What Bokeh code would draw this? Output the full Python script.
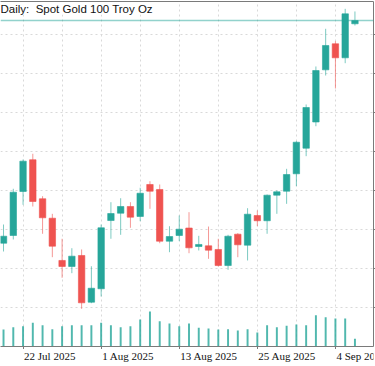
import numpy as np
from bokeh.plotting import figure
from bokeh.layouts import column
from bokeh.models import Range1d, LinearAxis, FixedTicker, Span, Label, ColumnDataSource
from bokeh.embed import file_html
from bokeh.resources import INLINE

# ---------------- data ----------------
dates = ["2025-07-18", "2025-07-21", "2025-07-22", "2025-07-23", "2025-07-24", "2025-07-25",
         "2025-07-28", "2025-07-29", "2025-07-30", "2025-07-31", "2025-08-01", "2025-08-04",
         "2025-08-05", "2025-08-06", "2025-08-07", "2025-08-08", "2025-08-11", "2025-08-12",
         "2025-08-13", "2025-08-14", "2025-08-15", "2025-08-18", "2025-08-19", "2025-08-20",
         "2025-08-21", "2025-08-22", "2025-08-25", "2025-08-26", "2025-08-27", "2025-08-28",
         "2025-08-29", "2025-09-01", "2025-09-02", "2025-09-03", "2025-09-04", "2025-09-05",
         "2025-09-08"]
opens = [3332.4, 3342.3, 3398.7, 3439.4, 3389.4, 3364.5, 3310.3, 3302.6, 3316.7, 3256.8,
         3274.0, 3361.5, 3370.9, 3379.5, 3366.7, 3407.7, 3401.3, 3335.0, 3342.3, 3351.9,
         3328.2, 3329.1, 3324.4, 3303.8, 3344.0, 3329.9, 3367.9, 3361.2, 3394.0, 3399.1,
         3421.4, 3454.2, 3487.8, 3554.7, 3588.1, 3570.1, 3613.7]
highs = [3356.4, 3402.2, 3439.7, 3447.1, 3392.7, 3370.1, 3338.1, 3326.0, 3324.4, 3302.9,
         3356.4, 3385.0, 3390.1, 3385.0, 3403.5, 3411.9, 3407.7, 3354.2, 3367.9, 3372.2,
         3341.9, 3353.8, 3338.1, 3343.2, 3345.3, 3377.3, 3374.4, 3394.9, 3400.0, 3427.8,
         3463.2, 3510.3, 3559.0, 3607.3, 3591.4, 3632.9, 3629.5]
lows = [3321.8, 3337.2, 3381.7, 3379.5, 3344.5, 3314.5, 3288.1, 3294.0, 3248.3, 3255.5,
        3264.1, 3338.1, 3343.2, 3352.2, 3360.6, 3376.5, 3332.4, 3320.9, 3335.0, 3319.6,
        3323.1, 3312.4, 3302.6, 3298.3, 3314.5, 3310.3, 3354.2, 3344.5, 3370.1, 3382.9,
        3405.5, 3444.0, 3482.4, 3547.4, 3530.8, 3563.2, 3611.5]
closes = [3341.4, 3397.8, 3437.6, 3385.9, 3365.0, 3328.6, 3302.6, 3315.8, 3256.0, 3274.7,
          3352.2, 3370.5, 3379.5, 3365.8, 3396.5, 3399.1, 3335.0, 3341.0, 3350.4, 3326.5,
          3330.8, 3323.5, 3303.8, 3341.4, 3330.4, 3369.6, 3361.2, 3394.0, 3398.3, 3420.5,
          3461.9, 3506.4, 3553.8, 3585.9, 3570.1, 3626.5, 3617.9]
volumes = [85000, 96500, 101500, 118500, 106500, 86500, 101500, 106500, 106500, 106500,
           118500, 106500, 96500, 101500, 135000, 175000, 126500, 115000, 101500, 115000,
           93500, 90000, 85000, 86500, 80000, 86500, 70000, 106500, 96500, 103500,
           110000, 106500, 156500, 146500, 140000, 140000, 38500]
label_dates = ["2025-07-10", "2025-07-22", "2025-08-01", "2025-08-13", "2025-08-25", "2025-09-04"]
price_ticks = [3250, 3300, 3350, 3400, 3450, 3500, 3550, 3600]
title_text = "Daily:\u00a0 Spot Gold 100 Troy Oz"

# ---------------- derived ----------------
UP, DOWN = "#26a69a", "#ef5350"
AXIS = "#7a7a7a"
FONT = "Liberation Sans"
xs = np.busday_count(dates[0], np.array(dates, dtype="datetime64[D]"))
lx = np.busday_count(dates[0], np.array(label_dates, dtype="datetime64[D]"))
lab_txt = [np.datetime64(d, "D").astype(object).strftime("%-d %b %Y") for d in label_dates]
o, h, l, c = map(np.array, (opens, highs, lows, closes))
col = [UP if cc >= oo else DOWN for oo, cc in zip(o, c)]
src = ColumnDataSource(dict(x=xs, top=np.maximum(o, c), bottom=np.minimum(o, c),
                            high=h, low=l, color=col, vol=volumes))

xr = Range1d(-0.31, 37.9)
p = figure(width=375, height=349, output_backend="svg", toolbar_location=None, tools="",
           x_range=xr, y_range=Range1d(3200, 3642.3),
           y_axis_location="right", min_border=0, min_border_top=1, min_border_bottom=0,
           min_border_right=0, min_border_left=0, outline_line_color=None,
           background_fill_color="white", border_fill_color="white")
p.extra_y_ranges = {"vol": Range1d(0, 1725000)}

# grid
grid_x = list(range(int(lx[0]) + 4, int(xs[-1]) + 4, 4))
p.xgrid.ticker = FixedTicker(ticks=grid_x)
p.ygrid.ticker = FixedTicker(ticks=price_ticks)
for g in (p.xgrid, p.ygrid):
    g.grid_line_color = "#d9d9d9"
    g.grid_line_dash = "2 3"
    g.grid_line_width = 1

# bottom axis: line and tick marks (labels are in the strip below)
xa = p.xaxis[0]
xa.ticker = FixedTicker(ticks=[int(v) for v in lx])
xa.major_label_overrides = {int(v): "" for v in lx}
xa.major_label_text_color = None
xa.major_label_standoff = 0
xa.major_tick_out = 3
xa.major_tick_in = 0
xa.minor_tick_out = 0
xa.minor_tick_in = 0
xa.axis_line_color = AXIS
xa.major_tick_line_color = AXIS

# right axis (its labels lie beyond the window)
ya = p.yaxis[0]
ya.ticker = FixedTicker(ticks=price_ticks)
ya.major_label_overrides = {t: "" for t in price_ticks}
ya.major_label_text_color = None
ya.major_label_standoff = 0
ya.major_tick_out = 2
ya.major_tick_in = 0
ya.minor_tick_out = 0
ya.minor_tick_in = 0
ya.axis_line_color = AXIS
ya.major_tick_line_color = AXIS

# top border
top = LinearAxis(ticker=FixedTicker(ticks=[]), major_tick_out=0, major_tick_in=0,
                 minor_tick_out=0, minor_tick_in=0, major_label_standoff=0,
                 major_label_text_color=None, axis_line_color=AXIS)
p.add_layout(top, "above")

# volume
p.vbar(x="x", width=0.2, top="vol", bottom=0, source=src, y_range_name="vol",
       fill_color=UP, line_color=None, fill_alpha=0.8)
# wicks + bodies
p.segment(x0="x", y0="high", x1="x", y1="low", source=src, line_color="color",
          line_width=1, line_alpha=0.6)
p.vbar(x="x", width=0.66, top="top", bottom="bottom", source=src,
       fill_color="color", line_color="color", line_width=0.6)

# last price line and label
p.add_layout(Span(location=closes[-1], dimension="width", line_color=UP,
                  line_alpha=0.5, line_width=1.5))
p.add_layout(Label(x=xr.end, y=closes[-1], text=f"{closes[-1]:.1f}",
                   text_baseline="middle", text_align="left", x_offset=1,
                   text_font=FONT, text_font_size="11px", text_color="white",
                   background_fill_color=UP, padding=2))

# title
p.add_layout(Label(x=0, y=344, x_units="screen", y_units="screen", text=title_text,
                   text_baseline="top", text_align="left", text_font=FONT,
                   text_font_size="11.5px", text_color="#111111",
                   background_fill_color="white", padding=0))

# strip below the chart with the date labels, left-aligned at their ticks
s = figure(width=375, height=17, output_backend="svg", toolbar_location=None, tools="",
           x_range=xr, y_range=Range1d(0, 1), x_axis_type=None, y_axis_type=None,
           min_border=0, min_border_right=2, outline_line_color=None,
           background_fill_color="white", border_fill_color="white")
s.xgrid.visible = False
s.ygrid.visible = False
s.text(x=list(lx), y=[1] * len(lx), text=lab_txt, text_align="left",
       text_baseline="alphabetic", x_offset=1, y_offset=6, text_font_size="11px",
       text_color="#111111", text_font=FONT)

layout = column(p, s, spacing=0)
open("out.html", "w").write(file_html(layout, INLINE))
